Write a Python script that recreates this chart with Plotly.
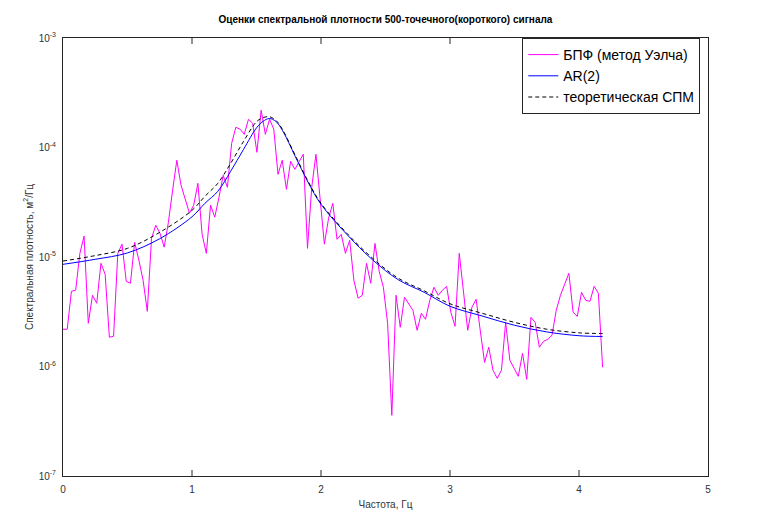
import math
import plotly.graph_objects as go

# ---- Welch PSD estimate (129 bins, 0 .. 4.183 Hz) ----
f_step = 4.183 / 128
welch_freq = [i * f_step for i in range(129)]
welch_psd = [
    2.19e-6, 2.19e-6, 4.86e-6, 4.97e-6, 1.08e-5, 1.55e-5, 2.48e-6, 4.47e-6, 3.78e-6, 8.76e-6,
    6.95e-6, 1.85e-6, 1.89e-6, 1.08e-5, 1.31e-5, 6.00e-6, 5.75e-6, 1.36e-5, 9.33e-6, 6.12e-6,
    3.19e-6, 1.48e-5, 1.95e-5, 1.65e-5, 1.23e-5, 2.07e-5, 4.07e-5, 7.64e-5, 4.52e-5, 3.37e-5,
    2.51e-5, 2.97e-5, 4.71e-5, 1.61e-5, 1.08e-5, 2.97e-5, 2.31e-5, 3.51e-5, 5.57e-5, 4.33e-5,
    1.09e-4, 1.53e-4, 1.47e-4, 1.32e-4, 1.81e-4, 1.66e-4, 9.04e-5, 2.19e-4, 1.32e-4, 1.81e-4,
    1.47e-4, 5.69e-5, 7.64e-5, 4.15e-5, 7.48e-5, 6.32e-5, 7.48e-5, 8.67e-5, 1.20e-5, 4.33e-5,
    8.67e-5, 3.51e-5, 1.31e-5, 2.26e-5, 3.09e-5, 1.45e-5, 1.61e-5, 1.08e-5, 1.42e-5, 6.12e-6,
    4.20e-6, 4.47e-6, 8.76e-6, 5.75e-6, 1.33e-5, 7.40e-6, 5.29e-6, 2.48e-6, 3.58e-7, 4.47e-6,
    2.28e-6, 4.29e-6, 3.78e-6, 3.26e-6, 2.14e-6, 3.06e-6, 2.70e-6, 4.02e-6, 5.29e-6, 4.47e-6,
    4.97e-6, 5.40e-6, 3.13e-6, 2.33e-6, 1.08e-5, 4.47e-6, 2.14e-6, 3.47e-6, 4.11e-6, 2.10e-6,
    1.09e-6, 1.50e-6, 9.23e-7, 7.80e-7, 9.23e-7, 2.53e-6, 1.14e-6, 9.64e-7, 8.14e-7, 1.32e-6,
    7.64e-7, 2.81e-6, 2.53e-6, 1.50e-6, 1.70e-6, 1.77e-6, 1.93e-6, 3.26e-6, 4.47e-6, 5.64e-6,
    7.10e-6, 3.13e-6, 2.87e-6, 4.76e-6, 4.02e-6, 3.94e-6, 5.40e-6, 4.66e-6, 9.84e-7,
]

# ---- AR(2) model PSD and theoretical PSD ----
model_freq = [0, 0.25, 0.5, 0.75, 1.0, 1.1, 1.2, 1.3, 1.4, 1.5, 1.55, 1.6, 1.65, 1.7,
              1.8, 1.9, 2.0, 2.2, 2.4, 2.6, 2.8, 3.0, 3.25, 3.5, 3.75, 4.0, 4.183]
ar2_psd = [8.57e-6, 9.53e-6, 1.09e-5, 1.47e-5, 2.33e-5, 3.09e-5, 3.98e-5, 6.07e-5, 9.63e-5,
           1.51e-4, 1.73e-4, 1.84e-4, 1.73e-4, 1.44e-4, 8.31e-5, 4.81e-5, 3.03e-5, 1.61e-5,
           9.42e-6, 6.19e-6, 4.76e-6, 3.55e-6, 2.89e-6, 2.38e-6, 2.07e-6, 1.91e-6, 1.88e-6]
theory_psd = [9.19e-6, 1.03e-5, 1.20e-5, 1.68e-5, 2.67e-5, 3.58e-5, 4.71e-5, 7.18e-5, 1.14e-4,
              1.72e-4, 1.87e-4, 1.91e-4, 1.77e-4, 1.47e-4, 8.49e-5, 4.91e-5, 3.09e-5, 1.65e-5,
              9.73e-6, 6.39e-6, 4.91e-6, 3.74e-6, 3.06e-6, 2.53e-6, 2.19e-6, 2.03e-6, 2.00e-6]

y_tick_vals = [1e-7, 1e-6, 1e-5, 1e-4, 1e-3]
y_tick_text = ["10<sup>-7</sup>", "10<sup>-6</sup>", "10<sup>-5</sup>", "10<sup>-4</sup>", "10<sup>-3</sup>"]
y_minor_vals = [m * d for d in [1e-7, 1e-6, 1e-5, 1e-4] for m in range(2, 10)]
x_tick_vals = [0, 1, 2, 3, 4, 5]

FONT = "Liberation Sans, Arial, sans-serif"
AX = "#262626"
W, H = 758, 526
ML, MR, MT, MB = 63, 50, 38, 50
PW, PH = W - ML - MR, H - MT - MB

fig = go.Figure()
fig.add_trace(go.Scatter(x=welch_freq, y=welch_psd, mode="lines",
                         name="БПФ (метод Уэлча)",
                         line=dict(color="#ff00ff", width=1)))
fig.add_trace(go.Scatter(x=model_freq, y=ar2_psd, mode="lines", name="AR(2)",
                         line=dict(color="#0000ff", width=1, shape="spline")))
fig.add_trace(go.Scatter(x=model_freq, y=theory_psd, mode="lines",
                         name="теоретическая СПМ",
                         line=dict(color="#000000", width=1, dash="4px,3px", shape="spline")))

# inward tick marks on all four sides (Octave box style)
tick_shapes = []
def ytick(v, length):
    lx = length / PW
    yv = math.log10(v)
    for a, b in ((0, lx), (1 - lx, 1)):
        tick_shapes.append(dict(type="line", xref="paper", yref="y", x0=a, x1=b, y0=yv, y1=yv,
                                line=dict(color=AX, width=1), layer="above"))
def xtick(v, length):
    ly = length / PH
    for a, b in ((0, ly), (1 - ly, 1)):
        tick_shapes.append(dict(type="line", xref="x", yref="paper", x0=v, x1=v, y0=a, y1=b,
                                line=dict(color=AX, width=1), layer="above"))
for v in y_tick_vals[1:-1]:
    ytick(v, 6)
for v in y_minor_vals:
    ytick(v, 3.5)
for v in x_tick_vals[1:-1]:
    xtick(v, 6)

tickfont = dict(family=FONT, size=10, color="#333333")

fig.update_layout(
    width=W, height=H,
    margin=dict(l=ML, r=MR, t=MT, b=MB, autoexpand=False),
    paper_bgcolor="white", plot_bgcolor="white",
    shapes=tick_shapes,
    xaxis=dict(range=[0, 5], tickvals=x_tick_vals, showgrid=False, zeroline=False,
               showline=True, linecolor=AX, linewidth=1, mirror=True, ticks="",
               tickfont=tickfont, ticklabelstandoff=4,
               title=dict(text="Частота, Гц", font=tickfont, standoff=6)),
    yaxis=dict(type="log", range=[-7, -3], tickvals=y_tick_vals, ticktext=y_tick_text,
               tickfont=tickfont, ticks="", showgrid=False, zeroline=False,
               showline=True, linecolor=AX, linewidth=1, mirror=True, ticklabelstandoff=4,
               title=dict(text="Спектральная плотность, м<sup>2</sup>/Гц",
                          font=tickfont, standoff=3)),
    title=dict(text="<b>Оценки спектральной плотности 500-точечного(короткого) сигнала</b>",
               x=0.5085, xanchor="center", y=0.962, yanchor="middle",
               font=dict(family=FONT, size=10, color="#000000")),
    legend=dict(x=0.988, xanchor="right", y=1.0, yanchor="top",
                bgcolor="white", bordercolor=AX, borderwidth=1,
                font=dict(family=FONT, size=14, color="#000000"),
                itemwidth=30, tracegroupgap=0),
    showlegend=True,
)

fig.write_html("out.html")
